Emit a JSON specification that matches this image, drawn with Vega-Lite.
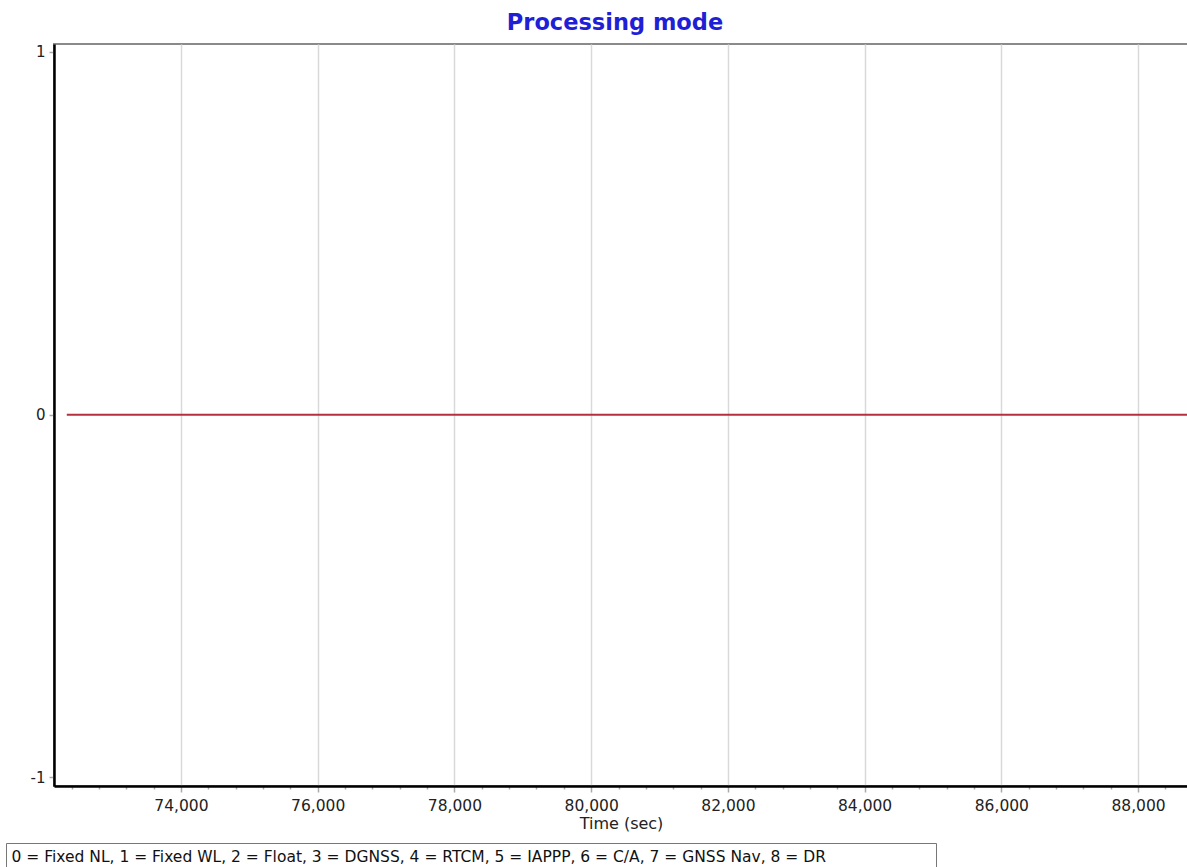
{
  "$schema": "https://vega.github.io/schema/vega-lite/v6.json",
  "width": 1134,
  "height": 742,
  "autosize": {"type": "none"},
  "padding": {"left": 54, "top": 44, "right": 0, "bottom": 81},
  "background": "white",
  "title": {"text": "Processing mode", "font": "DejaVu Sans", "fontSize": 22.5, "fontWeight": "bold", "color": "#1f1fd6", "offset": 10, "anchor": "middle", "dx": -6},
  "config": {"view": {"stroke": "#8a8a8a", "strokeWidth": 2}},
  "data": {"values": [
    {"t": 72330, "mode": 0, "legend": "0 = Fixed NL, 1 = Fixed WL, 2 = Float, 3 = DGNSS, 4 = RTCM, 5 = IAPPP, 6 = C/A, 7 = GNSS Nav, 8 = DR\u00a0\u00a0\u00a0\u00a0\u00a0\u00a0\u00a0\u00a0\u00a0\u00a0\u00a0\u00a0\u00a0\u00a0\u00a0\u00a0\u00a0\u00a0\u00a0\u00a0\u00a0\u200b"},
    {"t": 76000, "mode": 0, "legend": "0 = Fixed NL, 1 = Fixed WL, 2 = Float, 3 = DGNSS, 4 = RTCM, 5 = IAPPP, 6 = C/A, 7 = GNSS Nav, 8 = DR\u00a0\u00a0\u00a0\u00a0\u00a0\u00a0\u00a0\u00a0\u00a0\u00a0\u00a0\u00a0\u00a0\u00a0\u00a0\u00a0\u00a0\u00a0\u00a0\u00a0\u00a0\u200b"},
    {"t": 80000, "mode": 0, "legend": "0 = Fixed NL, 1 = Fixed WL, 2 = Float, 3 = DGNSS, 4 = RTCM, 5 = IAPPP, 6 = C/A, 7 = GNSS Nav, 8 = DR\u00a0\u00a0\u00a0\u00a0\u00a0\u00a0\u00a0\u00a0\u00a0\u00a0\u00a0\u00a0\u00a0\u00a0\u00a0\u00a0\u00a0\u00a0\u00a0\u00a0\u00a0\u200b"},
    {"t": 84000, "mode": 0, "legend": "0 = Fixed NL, 1 = Fixed WL, 2 = Float, 3 = DGNSS, 4 = RTCM, 5 = IAPPP, 6 = C/A, 7 = GNSS Nav, 8 = DR\u00a0\u00a0\u00a0\u00a0\u00a0\u00a0\u00a0\u00a0\u00a0\u00a0\u00a0\u00a0\u00a0\u00a0\u00a0\u00a0\u00a0\u00a0\u00a0\u00a0\u00a0\u200b"},
    {"t": 88800, "mode": 0, "legend": "0 = Fixed NL, 1 = Fixed WL, 2 = Float, 3 = DGNSS, 4 = RTCM, 5 = IAPPP, 6 = C/A, 7 = GNSS Nav, 8 = DR\u00a0\u00a0\u00a0\u00a0\u00a0\u00a0\u00a0\u00a0\u00a0\u00a0\u00a0\u00a0\u00a0\u00a0\u00a0\u00a0\u00a0\u00a0\u00a0\u00a0\u00a0\u200b"}
  ]},
  "mark": {"type": "line", "strokeWidth": 2, "clip": true},
  "encoding": {
    "x": {
      "field": "t", "type": "quantitative",
      "scale": {"domain": [72143, 88730], "nice": false, "zero": false},
      "axis": {
        "title": "Time (sec)",
        "titleFont": "DejaVu Sans", "titleFontSize": 16, "titleFontWeight": "normal", "titleColor": "#222", "titlePadding": 2,
        "values": [72400, 72800, 73200, 73600, 74000, 74400, 74800, 75200, 75600, 76000, 76400, 76800, 77200, 77600, 78000, 78400, 78800, 79200, 79600, 80000, 80400, 80800, 81200, 81600, 82000, 82400, 82800, 83200, 83600, 84000, 84400, 84800, 85200, 85600, 86000, 86400, 86800, 87200, 87600, 88000, 88400],
        "labelExpr": "datum.value % 2000 === 0 ? format(datum.value, ',') : ''",
        "labelFont": "DejaVu Sans", "labelFontSize": 15.5, "labelColor": "#222", "labelPadding": 6,
        "labelFlush": false, "labelOverlap": false,
        "domainColor": "#000", "domainWidth": 2.5,
        "tickColor": "#aaa", "tickWidth": 1.5,
        "tickSize": {"condition": {"test": "datum.value % 2000 === 0", "value": 6}, "value": 3},
        "grid": true, "gridColor": "#d9d9d9", "gridWidth": 1.5,
        "gridOpacity": {"condition": {"test": "datum.value % 2000 === 0", "value": 1}, "value": 0}
      }
    },
    "y": {
      "field": "mode", "type": "quantitative",
      "scale": {"domain": [-1.024, 1.022], "nice": false, "zero": false},
      "axis": {
        "title": null, "values": [-1, 0, 1],
        "labelExpr": "datum.value > 0.5 ? '1' : (datum.value < -0.5 ? '-1' : '0')",
        "labelFont": "DejaVu Sans", "labelFontSize": 15, "labelColor": "#222", "labelPadding": 4,
        "labelOverlap": false, "labelFlush": false,
        "domainColor": "#000", "domainWidth": 2.5,
        "tickColor": "#aaa", "tickWidth": 1.5, "tickSize": 5,
        "grid": false
      }
    },
    "color": {
      "field": "legend", "type": "nominal",
      "scale": {"range": ["#b5303c"]},
      "legend": {
        "orient": "none", "legendX": -48, "legendY": 799, "title": null,
        "strokeColor": "#777", "fillColor": "white", "padding": 6,
        "symbolSize": 0, "symbolStrokeWidth": 0, "symbolOpacity": 0, "symbolOffset": 0, "labelOffset": -16,
        "labelFont": "DejaVu Sans", "labelFontSize": 15.5, "labelColor": "#111", "labelLimit": 3000
      }
    }
  }
}
